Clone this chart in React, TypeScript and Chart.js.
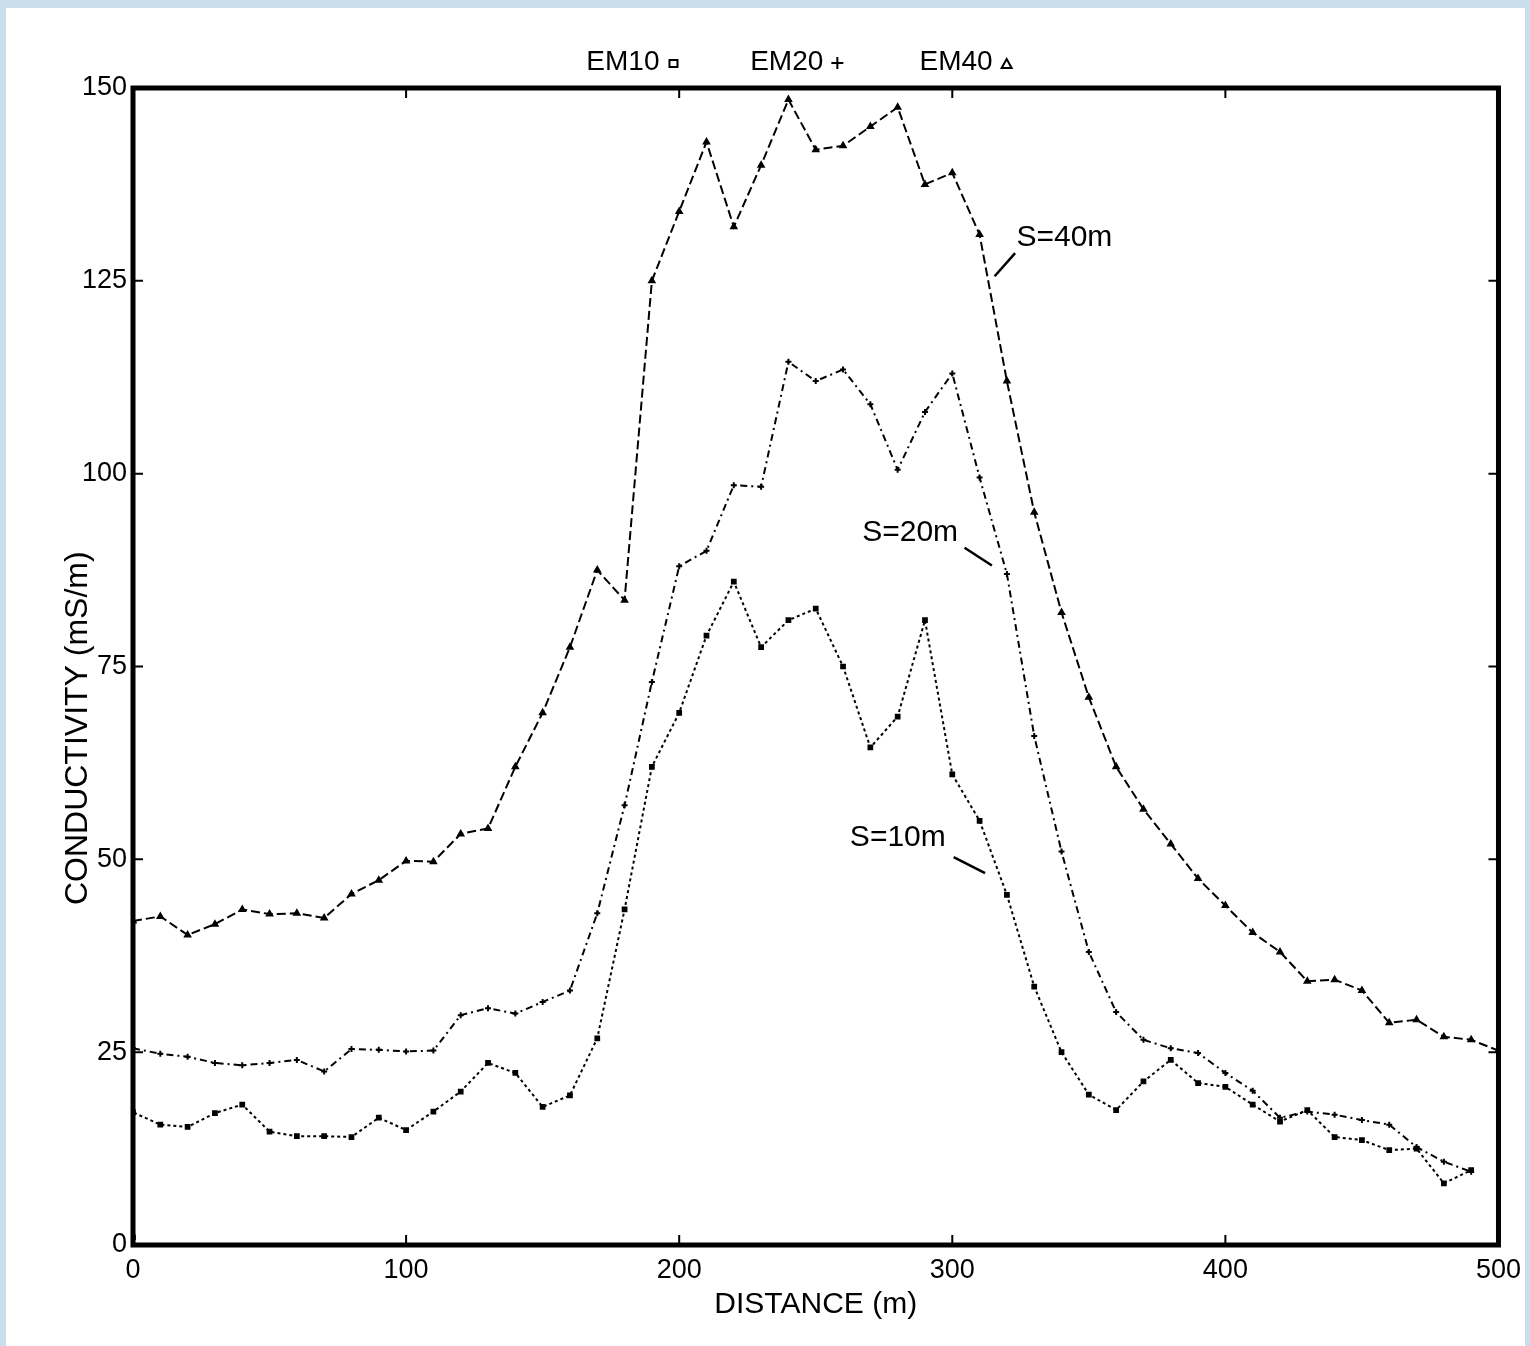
import React, { useEffect, useRef } from "react";
import { Chart, registerables } from "chart.js";

Chart.register(...registerables);

// ---- data ----
const distances = [
  0, 10, 20, 30, 40, 50, 60, 70, 80, 90,
  100, 110, 120, 130, 140, 150, 160, 170, 180, 190,
  200, 210, 220, 230, 240, 250, 260, 270, 280, 290,
  300, 310, 320, 330, 340, 350, 360, 370, 380, 390,
  400, 410, 420, 430, 440, 450, 460, 470, 480, 490, 500,
];

// EM40 (S=40m)
const em40Values = [
  42, 42.6, 40.2, 41.6, 43.5, 42.9, 43.0, 42.4, 45.5, 47.3,
  49.8, 49.7, 53.3, 54.0, 62, 69, 77.5, 87.5, 83.6, 125,
  134, 143, 132, 140, 148.5, 142, 142.5, 145, 147.5, 137.5,
  139, 131, 112, 95, 82, 71, 62, 56.5, 52, 47.5,
  44, 40.5, 38, 34.2, 34.4, 33, 28.8, 29.2, 27, 26.6, 25.2,
];

// EM20 (S=20m)
const em20Values = [
  25.5, 24.8, 24.4, 23.6, 23.3, 23.6, 24.0, 22.5, 25.4, 25.3,
  25.1, 25.2, 29.8, 30.7, 30.0, 31.5, 33, 43, 57, 73,
  88, 90, 98.5, 98.3, 114.5, 112, 113.5, 109, 100.5, 108,
  113, 99.5, 87, 66, 51, 38, 30.2, 26.6, 25.5, 24.9,
  22.3, 20, 16.5, 17.3, 16.9, 16.2, 15.6, 12.7, 10.8, 9.5, null,
];

// EM10 (S=10m)
const em10Values = [
  17.2, 15.6, 15.3, 17.1, 18.2, 14.7, 14.1, 14.1, 14.0, 16.5,
  14.9, 17.3, 19.9, 23.6, 22.3, 17.9, 19.4, 26.8, 43.5, 62,
  69, 79, 86, 77.5, 81, 82.5, 75, 64.5, 68.5, 81,
  61, 55, 45.4, 33.5, 25, 19.5, 17.5, 21.2, 24, 21,
  20.5, 18.2, 16, 17.5, 14, 13.6, 12.3, 12.5, 8, 9.7, null,
];
// first EM10 reading at the start of the line (drops to the axis)
const em10StartValue = 1;

const yTicks = [0, 25, 50, 75, 100, 125, 150];
const xTicks = [0, 100, 200, 300, 400, 500];

const legendLabels = ["EM10", "EM20", "EM40"];
const seriesLabels = ["S=10m", "S=20m", "S=40m"];

// annotation placement (data units) – layout, not data
const annotations = [
  { text: "S=40m", tx: 323.5, ty: 130.6, x1: 323, y1: 128.6, x2: 315.5, y2: 125.6 },
  { text: "S=20m", tx: 267, ty: 92.3, x1: 304.5, y1: 90.4, x2: 314.5, y2: 88.1 },
  { text: "S=10m", tx: 262.5, ty: 52.8, x1: 300.5, y1: 50.3, x2: 312, y2: 48.2 },
];
const legendX = [166, 226, 288];

const FONT = "'Liberation Sans', Arial, sans-serif";

function toPoints(values: (number | null)[]) {
  const pts: { x: number; y: number | null }[] = [];
  values.forEach((v, i) => pts.push({ x: distances[i], y: v }));
  return pts;
}

const framePlugin = {
  id: "frameAndText",
  afterDraw(chart: any) {
    const { ctx, chartArea: a, scales } = chart;
    const xs = scales.x;
    const ys = scales.y;
    ctx.save();
    // frame
    ctx.strokeStyle = "#000";
    ctx.lineWidth = 5;
    ctx.strokeRect(a.left, a.top, a.right - a.left, a.bottom - a.top);
    // inward ticks
    ctx.lineWidth = 2;
    const tl = 10;
    ctx.beginPath();
    xTicks.forEach((t) => {
      const px = xs.getPixelForValue(t);
      ctx.moveTo(px, a.bottom);
      ctx.lineTo(px, a.bottom - tl);
      ctx.moveTo(px, a.top);
      ctx.lineTo(px, a.top + tl);
    });
    yTicks.forEach((t) => {
      const py = ys.getPixelForValue(t);
      ctx.moveTo(a.left, py);
      ctx.lineTo(a.left + tl, py);
      ctx.moveTo(a.right, py);
      ctx.lineTo(a.right - tl, py);
    });
    ctx.stroke();

    ctx.fillStyle = "#000";
    // y axis title
    ctx.save();
    ctx.translate(78, ys.getPixelForValue(67));
    ctx.rotate(-Math.PI / 2);
    ctx.font = `32px ${FONT}`;
    ctx.textAlign = "center";
    ctx.textBaseline = "middle";
    ctx.fillText("CONDUCTIVITY (mS/m)", 0, 0);
    ctx.restore();

    // top legend
    ctx.font = `28px ${FONT}`;
    ctx.textAlign = "left";
    ctx.textBaseline = "middle";
    const ly = a.top - 26;
    legendLabels.forEach((lab, i) => {
      const lx = xs.getPixelForValue(legendX[i]);
      ctx.fillText(lab, lx, ly);
      const w = ctx.measureText(lab).width;
      const mx = lx + w + 14;
      ctx.lineWidth = 2;
      ctx.beginPath();
      if (i === 0) {
        ctx.rect(mx - 4, ly - 2, 8, 7);
        ctx.stroke();
      } else if (i === 1) {
        ctx.moveTo(mx - 6, ly + 1);
        ctx.lineTo(mx + 6, ly + 1);
        ctx.moveTo(mx, ly - 5);
        ctx.lineTo(mx, ly + 7);
        ctx.stroke();
      } else {
        ctx.moveTo(mx - 5, ly + 6);
        ctx.lineTo(mx, ly - 3);
        ctx.lineTo(mx + 5, ly + 6);
        ctx.closePath();
        ctx.stroke();
      }
    });

    // series annotations
    ctx.font = `30px ${FONT}`;
    annotations.forEach((an) => {
      ctx.fillText(an.text, xs.getPixelForValue(an.tx), ys.getPixelForValue(an.ty));
      ctx.lineWidth = 2.5;
      ctx.beginPath();
      ctx.moveTo(xs.getPixelForValue(an.x1), ys.getPixelForValue(an.y1));
      ctx.lineTo(xs.getPixelForValue(an.x2), ys.getPixelForValue(an.y2));
      ctx.stroke();
    });
    ctx.restore();
  },
};

export default function App() {
  const ref = useRef<HTMLCanvasElement | null>(null);

  useEffect(() => {
    if (!ref.current) return;
    const em10Points = [{ x: 0, y: em10StartValue }, ...toPoints(em10Values)];
    const chart = new Chart(ref.current, {
      type: "line",
      data: {
        datasets: [
          {
            label: seriesLabels[2],
            data: toPoints(em40Values),
            borderColor: "#000",
            backgroundColor: "#000",
            borderWidth: 2,
            borderDash: [9, 4],
            pointStyle: "triangle",
            pointRadius: 3,
            pointBorderWidth: 2,
          },
          {
            label: seriesLabels[1],
            data: toPoints(em20Values),
            borderColor: "#000",
            backgroundColor: "#000",
            borderWidth: 2,
            borderDash: [7, 4, 2, 4],
            pointStyle: "cross",
            pointRadius: 3,
            pointBorderWidth: 2,
          },
          {
            label: seriesLabels[0],
            data: em10Points,
            borderColor: "#000",
            backgroundColor: "#000",
            borderWidth: 2,
            borderDash: [3, 3],
            pointStyle: "rect",
            pointRadius: 3,
            pointBorderWidth: 1.5,
          },
        ],
      },
      options: {
        responsive: false,
        animation: false,
        layout: { padding: { top: 88, right: 26, left: 0, bottom: 0 } },
        plugins: {
          legend: { display: false },
          tooltip: { enabled: false },
        },
        scales: {
          x: {
            type: "linear",
            min: 0,
            max: 500,
            afterBuildTicks: (s: any) => {
              s.ticks = xTicks.map((v) => ({ value: v }));
            },
            afterFit: (s: any) => {
              s.height = 101;
            },
            grid: { display: false, drawTicks: false },
            border: { display: false },
            ticks: {
              color: "#000",
              font: { family: FONT, size: 27 },
              padding: 9,
              maxRotation: 0,
              autoSkip: false,
            },
            title: {
              display: true,
              text: "DISTANCE (m)",
              color: "#000",
              font: { family: FONT, size: 30 },
              padding: { top: 0, bottom: 23 },
            },
          },
          y: {
            type: "linear",
            min: 0,
            max: 150,
            afterBuildTicks: (s: any) => {
              s.ticks = yTicks.map((v) => ({ value: v }));
            },
            afterFit: (s: any) => {
              s.width = 133;
            },
            grid: { display: false, drawTicks: false },
            border: { display: false },
            ticks: {
              color: "#000",
              font: { family: FONT, size: 27 },
              padding: 6,
              autoSkip: false,
            },
          },
        },
      },
      plugins: [framePlugin],
    });
    return () => chart.destroy();
  }, []);

  return (
    <div
      style={{
        position: "absolute",
        left: 0,
        top: 0,
        width: 1530,
        height: 1346,
        background: "#cadfeb",
        overflow: "hidden",
      }}
    >
      <div
        style={{
          position: "absolute",
          left: 6,
          top: 8,
          right: 5,
          bottom: 0,
          background: "#fff",
        }}
      />
      <canvas
        ref={ref}
        width={1530}
        height={1346}
        style={{ position: "absolute", left: 0, top: 0, width: 1530, height: 1346 }}
      />
    </div>
  );
}
